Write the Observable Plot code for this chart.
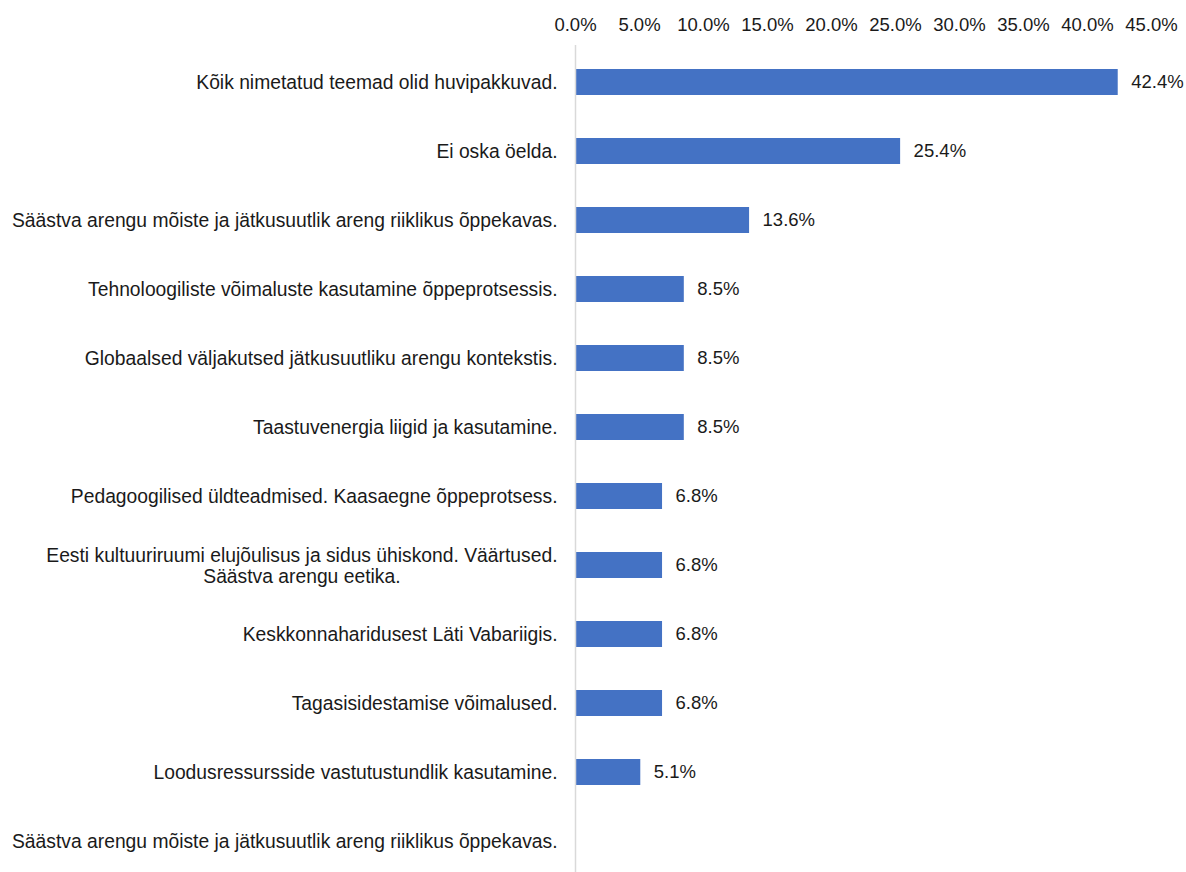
<!DOCTYPE html>
<html><head><meta charset="utf-8">
<script src="https://cdn.jsdelivr.net/npm/d3@7"></script>
<script src="https://cdn.jsdelivr.net/npm/@observablehq/plot@0.6"></script>
<style>body{margin:0;background:#fff;}</style>
</head><body><div id="chart"></div>
<script>
const categories = [
  "Kõik nimetatud teemad olid huvipakkuvad.",
  "Ei oska öelda.",
  "Säästva arengu mõiste ja jätkusuutlik areng riiklikus õppekavas.",
  "Tehnoloogiliste võimaluste kasutamine õppeprotsessis.",
  "Globaalsed väljakutsed jätkusuutliku arengu kontekstis.",
  "Taastuvenergia liigid ja kasutamine.",
  "Pedagoogilised üldteadmised. Kaasaegne õppeprotsess.",
  "Eesti kultuuriruumi elujõulisus ja sidus ühiskond. Väärtused.\nSäästva arengu eetika.",
  "Keskkonnaharidusest Läti Vabariigis.",
  "Tagasisidestamise võimalused.",
  "Loodusressursside vastutustundlik kasutamine.",
  "Säästva arengu mõiste ja jätkusuutlik areng riiklikus õppekavas."
];
const values = [42.4, 25.4, 13.6, 8.5, 8.5, 8.5, 6.8, 6.8, 6.8, 6.8, 5.1, null];
const xTicks = [0, 5, 10, 15, 20, 25, 30, 35, 40, 45];

const rows = categories.map((label, i) => ({i, label, value: values[i]}));
const withValue = rows.filter(d => d.value != null);
const pct = v => v.toFixed(1) + "%";

const chart = Plot.plot({
  width: 1186,
  height: 872,
  marginLeft: 575,
  marginRight: 35,
  marginTop: 45,
  marginBottom: 0,
  style: {fontFamily: "'Liberation Sans', Arial, sans-serif", fontSize: "18.5px", color: "#1a1a1a", background: "#fff"},
  x: {domain: [0, 45], axis: "top", ticks: xTicks, tickFormat: pct, tickSize: 0, tickPadding: 15, label: null},
  y: {domain: d3.range(categories.length), range: [22.4, 900.8], padding: 0.626, axis: null},
  marks: [
    Plot.barX(withValue, {x: "value", y: "i", fill: "#4472C4"}),
    Plot.ruleX([0], {stroke: "#d9d9d9", strokeWidth: 1.5}),
    Plot.text(withValue, {x: "value", y: "i", text: d => pct(d.value), textAnchor: "start", dx: 13, fontSize: 18.5, fill: "#1a1a1a"}),
    Plot.text(rows, {x: 0, y: "i", text: "label", textAnchor: "end", dx: -18, fontSize: 19.3, lineHeight: 1.1, fill: "#1a1a1a"})
  ]
});
document.getElementById("chart").appendChild(chart);

// center multi-line category labels on their longest line
chart.querySelectorAll("text").forEach(t => {
  const spans = t.querySelectorAll("tspan");
  if (spans.length > 1) {
    const bb = t.getBBox();
    const cx = bb.x + bb.width / 2;
    t.setAttribute("text-anchor", "middle");
    spans.forEach(s => s.setAttribute("x", cx));
  }
});
</script>
</body></html>
